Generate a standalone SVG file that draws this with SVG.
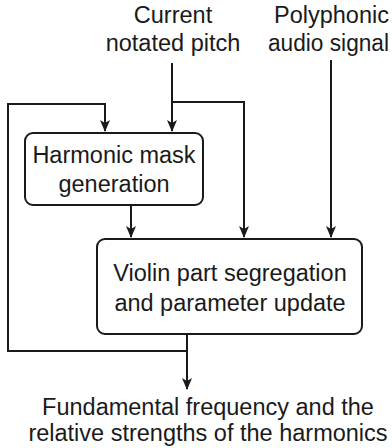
<svg xmlns="http://www.w3.org/2000/svg" width="392" height="448" viewBox="0 0 392 448">
<style>
text{font-family:"Liberation Sans",Arial,sans-serif;font-size:23.5px;fill:#1a1a1a;text-anchor:middle}
.box{fill:#fff;stroke:#1a1a1a;stroke-width:2}
.ln{fill:none;stroke:#1a1a1a;stroke-width:2}
</style>
<defs>
<marker id="ah" viewBox="0 0 12 12" refX="11" refY="6" markerWidth="12" markerHeight="12" markerUnits="userSpaceOnUse" orient="auto">
<path d="M0,1 L12,6 L0,11 L3,6 Z" fill="#1a1a1a"/>
</marker>
</defs>
<rect width="392" height="448" fill="#fff"/>
<g id="labels">
<text x="173" y="23">Current</text>
<text x="173" y="51">notated pitch</text>
<text x="274" y="23" style="text-anchor:start">Polyphonic</text>
<text x="268" y="51" style="text-anchor:start" textLength="121" lengthAdjust="spacingAndGlyphs">audio signal</text>
<text x="208" y="415">Fundamental frequency and the</text>
<text x="208" y="441">relative strengths of the harmonics</text>
</g>
<g id="connectors">
<path class="ln" d="M172,63 V131" marker-end="url(#ah)"/>
<path class="ln" d="M172,102 H244 V237" marker-end="url(#ah)"/>
<path class="ln" d="M331,60 V237" marker-end="url(#ah)"/>
<path class="ln" d="M187,351 H8 V104 H105 V131" marker-end="url(#ah)"/>
<path class="ln" d="M131,205 V237" marker-end="url(#ah)"/>
<path class="ln" d="M187,334 V389" marker-end="url(#ah)"/>
</g>
<g id="harmonic">
<rect class="box" x="25" y="133" width="178" height="72" rx="8"/>
<text x="114" y="163">Harmonic mask</text>
<text x="114" y="192">generation</text>
</g>
<g id="violin">
<rect class="box" x="97" y="239" width="265" height="95" rx="8"/>
<text x="230" y="281">Violin part segregation</text>
<text x="230" y="311">and parameter update</text>
</g>
</svg>
